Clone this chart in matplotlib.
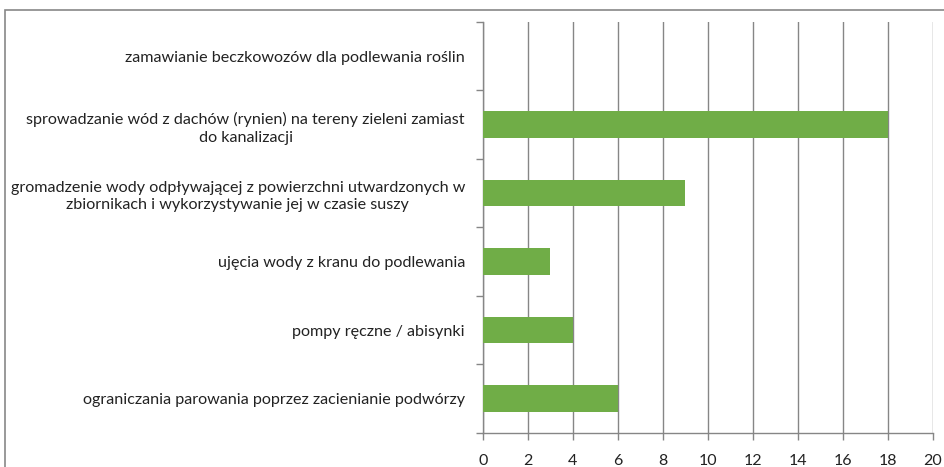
import matplotlib
matplotlib.use("Agg")
import matplotlib.pyplot as plt
from matplotlib.patches import Rectangle

plt.rcParams['font.family'] = ['Lato', 'DejaVu Sans']

categories = [
    "ograniczania parowania poprzez zacienianie podwórzy",
    "pompy ręczne / abisynki",
    "ujęcia wody z kranu do podlewania",
    "gromadzenie wody odpływającej z powierzchni utwardzonych w\nzbiornikach i wykorzystywanie jej w czasie suszy",
    "sprowadzanie wód z dachów (rynien) na tereny zieleni zamiast\ndo kanalizacji",
    "zamawianie beczkowozów dla podlewania roślin",
]
values = [6, 4, 3, 9, 18, 0]
xticks = [0, 2, 4, 6, 8, 10, 12, 14, 16, 18, 20]

W, H = 944, 467
fig = plt.figure(figsize=(W/100, H/100), dpi=100)
ax = fig.add_axes([483/W, 1-432.7/H, (932.7-483)/W, (432.7-22)/H])

pos = list(range(len(categories)))
ax.barh(pos, values, height=0.39, color='#70AD47', zorder=3)
ax.set_xlim(0, 20)
ax.set_ylim(-0.5, len(categories)-0.5)
ax.set_xticks(xticks)
ax.set_xticklabels([str(t) for t in xticks], fontsize=11.5, color='#222222')
ax.set_yticks([p - 0.5 for p in pos] + [len(categories)-0.5])
ax.set_yticklabels([])
ax.set_yticks(pos, minor=True)
ax.set_yticklabels(categories, minor=True, fontsize=11.6, color='#222222',
                   linespacing=1.35, ha='right', multialignment='center')
ax.tick_params(axis='y', which='minor', length=0, pad=13)
ax.tick_params(axis='y', which='major', length=5, color='#868686', width=1)
ax.tick_params(axis='x', length=5, color='#868686', width=1, pad=10)
ax.grid(axis='x', color='#868686', linewidth=1, zorder=0)
for s in ['top', 'right']:
    ax.spines[s].set_visible(False)
for s in ['left', 'bottom']:
    ax.spines[s].set_color('#868686')
    ax.spines[s].set_linewidth(1)

fig.patches.append(Rectangle((5/W, -0.1), 1.1, 1 - 10/H + 0.1, transform=fig.transFigure,
                             fill=False, edgecolor='#888888', linewidth=1.2))

fig.savefig("out.png", dpi=100)
